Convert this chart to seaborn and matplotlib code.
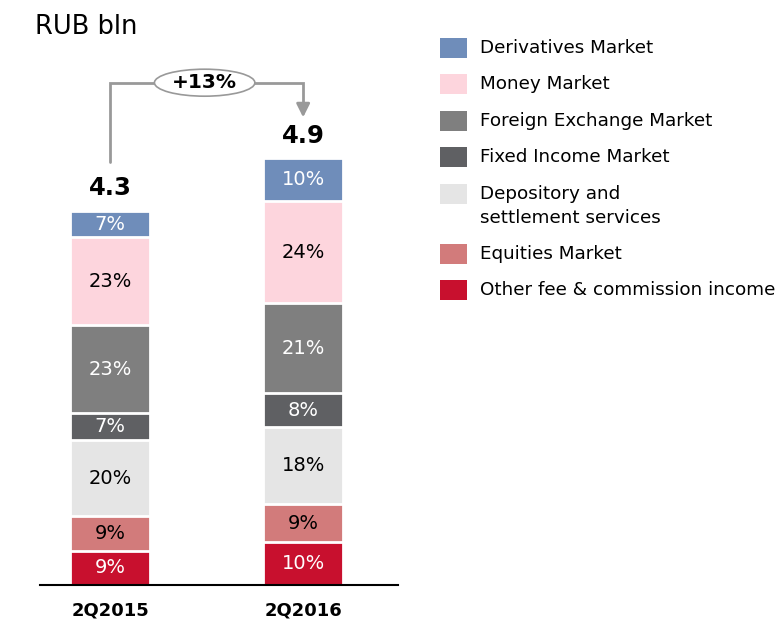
import numpy as np
import pandas as pd
import matplotlib
matplotlib.use("Agg")
import matplotlib.pyplot as plt
from matplotlib.patches import Ellipse, Rectangle
import seaborn as sns

# data (stack order: bottom to top)
periods = ["2Q2015", "2Q2016"]
totals = [4.3, 4.9]
segments = ["Other fee & commission income", "Equities Market",
            "Depository and\nsettlement services", "Fixed Income Market",
            "Foreign Exchange Market", "Money Market", "Derivatives Market"]
share_2015 = [9, 9, 20, 7, 23, 23, 7]
share_2016 = [10, 9, 18, 8, 21, 24, 10]
growth_label = "+13%"

colors = ["#c8102e", "#d27b7b", "#e5e5e5", "#5f6063", "#7f7f7f", "#fdd5dd", "#6f8dba"]
text_colors = ["white", "black", "black", "white", "white", "black", "white"]

sns.set_style("white")
plt.rcParams['font.family'] = ['DejaVu Sans']
plt.rcParams['text.color'] = 'black'
plt.rcParams['xtick.color'] = 'black'

rows = []
for period, total, shares in zip(periods, totals, [share_2015, share_2016]):
    shares = np.array(shares, dtype=float)
    heights = total * shares / shares.sum()
    cum = np.cumsum(heights)
    for seg, s, h, c in zip(segments, shares, heights, cum):
        rows.append({"period": period, "segment": seg, "share": s, "height": h, "top": c})
df = pd.DataFrame(rows)

W, H = 783, 620
fig = plt.figure(figsize=(W / 100, H / 100), dpi=100)
ax = fig.add_axes([0.051, 0.0565, 0.457, 0.9435])

# draw cumulative layers from top to bottom so lower ones overlay
for seg, col in reversed(list(zip(segments, colors))):
    sub = df[df["segment"] == seg]
    sns.barplot(data=sub, x="period", y="top", order=periods, color=col,
                width=0.415, edgecolor="white", linewidth=2, ax=ax, saturation=1)

for _, r in df.iterrows():
    i = periods.index(r["period"])
    tc = text_colors[segments.index(r["segment"])]
    ax.text(i, r["top"] - r["height"] / 2, f"{int(r['share'])}%", ha="center", va="center",
            fontsize=14, color=tc)

for i, t in enumerate(totals):
    ax.text(i, t + 0.12, f"{t}", ha="center", va="bottom", fontsize=17.5, fontweight="bold")

ax.set_xlim(-0.363, 1.49)
ax.set_ylim(0, 6.72)
for s in ["top", "right", "left"]:
    ax.spines[s].set_visible(False)
ax.spines["bottom"].set_color("black")
ax.spines["bottom"].set_linewidth(1.5)
ax.set_yticks([])
ax.set_xlabel("")
ax.set_ylabel("")
ax.tick_params(axis="x", length=0, pad=12)
for lbl in ax.get_xticklabels():
    lbl.set_fontweight("bold")
    lbl.set_fontsize(13)

# growth arrow
y1 = 4.86
y_top = 5.77
y2 = 5.41
ax.plot([0, 0, 1, 1], [y1, y_top, y_top, y2 + 0.05], color="#999999", lw=2, solid_joinstyle="miter")
ax.annotate("", xy=(1, y2 - 0.07), xytext=(1, y2 + 0.15),
            arrowprops=dict(arrowstyle="-|>,head_width=0.4,head_length=0.8", color="#999999", lw=2))
ax.add_patch(Ellipse((0.49, y_top), 0.52, 0.31, facecolor="white", edgecolor="#999999", lw=1.2, zorder=5))
ax.text(0.49, y_top, growth_label, ha="center", va="center", fontsize=14.5, fontweight="bold", zorder=6)

fig.text(35 / W, 1 - 27 / H, "RUB bln", fontsize=18.5, ha="left", va="center")

# legend drawn by hand (top to bottom)
y = 48
for seg, col in reversed(list(zip(segments, colors))):
    lines = seg.split("\n")
    fig.add_artist(Rectangle((440 / W, 1 - (y + 10) / H), 27 / W, 20 / H,
                             transform=fig.transFigure, facecolor=col, edgecolor="none"))
    for k, line in enumerate(lines):
        fig.text(480 / W, 1 - (y + 24 * k) / H, line, fontsize=13.25, ha="left", va="center")
    y += 36.4 + 24 * (len(lines) - 1)

fig.savefig("out.png", dpi=100)
